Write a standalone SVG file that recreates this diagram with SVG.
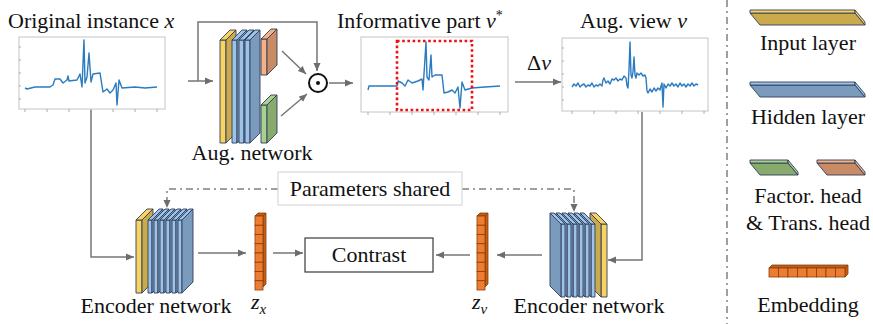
<svg xmlns="http://www.w3.org/2000/svg" xmlns:xlink="http://www.w3.org/1999/xlink" width="873" height="324" viewBox="0 0 873 324">
<style>
text{font-family:"Liberation Serif","Times New Roman","DejaVu Serif",serif;font-size:22px;fill:#111}
.it{font-style:italic}
.conn{fill:none;stroke:#767676;stroke-width:1.5}
.dd{fill:none;stroke:#808080;stroke-width:1.5;stroke-dasharray:7,4,2,4}
.plot{fill:#fff;stroke:#c4c4c4;stroke-width:1}
.tick{stroke:#9a9a9a;stroke-width:0.8}
.sig{fill:none;stroke:#2a7bbf;stroke-width:1.4;stroke-linejoin:round}
.s{stroke:#2f3d5c;stroke-width:0.9;stroke-linejoin:round}
.yf{fill:#f7d462}.ys{fill:#cba94d}
.bf{fill:#9dc3e6}.bs{fill:#7b9bbd}
.of{fill:#f4b183}.os{fill:#c88b63}
.gf{fill:#a9d18e}.gs{fill:#88aa6c}
.ef{fill:#ed7d31;stroke:#8a3c0c;stroke-width:0.8}
.es{fill:#c45e17;stroke:#8a3c0c;stroke-width:0.8}
</style>
<defs>
<marker id="ah" markerUnits="userSpaceOnUse" markerWidth="9" markerHeight="8" refX="8" refY="4" orient="auto">
<path d="M0,0.5 L8,4 L0,7.5 z" fill="#6d6d6d"/>
</marker>
<g id="enc">
<rect class="s yf" x="136" y="220" width="6" height="73"/>
<polygon class="s yf" points="136,220 147,209 153,209 142,220"/>
<polygon class="s ys" points="142,220 153,209 153,282 142,293"/>
<rect class="s bf" x="148" y="220" width="4" height="73"/>
<polygon class="s bf" points="148,220 159,209 163,209 152,220"/>
<polygon class="s bs" points="152,220 163,209 163,282 152,293"/>
<rect class="s bf" x="154" y="220" width="4" height="73"/>
<polygon class="s bf" points="154,220 165,209 169,209 158,220"/>
<polygon class="s bs" points="158,220 169,209 169,282 158,293"/>
<rect class="s bf" x="160" y="220" width="4" height="73"/>
<polygon class="s bf" points="160,220 171,209 175,209 164,220"/>
<polygon class="s bs" points="164,220 175,209 175,282 164,293"/>
<rect class="s bf" x="166" y="220" width="4" height="73"/>
<polygon class="s bf" points="166,220 177,209 181,209 170,220"/>
<polygon class="s bs" points="170,220 181,209 181,282 170,293"/>
<rect class="s bf" x="172" y="220" width="4" height="73"/>
<polygon class="s bf" points="172,220 183,209 187,209 176,220"/>
<polygon class="s bs" points="176,220 187,209 187,282 176,293"/>
<rect class="s bf" x="178" y="220" width="4" height="73"/>
<polygon class="s bf" points="178,220 189,209 193,209 182,220"/>
<polygon class="s bs" points="182,220 193,209 193,282 182,293"/>
</g>
<g id="emb">
<polygon class="es" points="0,3 3,0 11,0 8,3"/>
<polygon class="es" points="8,3 11,0 11,71 8,74"/>
<rect class="ef" x="0" y="3" width="8" height="9.25"/>
<rect class="ef" x="0" y="12.25" width="8" height="9.25"/>
<rect class="ef" x="0" y="21.5" width="8" height="9.25"/>
<rect class="ef" x="0" y="30.75" width="8" height="9.25"/>
<rect class="ef" x="0" y="40" width="8" height="9.25"/>
<rect class="ef" x="0" y="49.25" width="8" height="9.25"/>
<rect class="ef" x="0" y="58.5" width="8" height="9.25"/>
<rect class="ef" x="0" y="67.75" width="8" height="9.25"/>
</g>
</defs>
<rect width="873" height="324" fill="#fff"/>

<g id="connectors">
<path class="conn" d="M188,81 H213" marker-end="url(#ah)"/>
<path class="conn" d="M198,81 V22 H317 V71" marker-end="url(#ah)"/>
<path class="conn" d="M282,51 L306,74" marker-end="url(#ah)"/>
<path class="conn" d="M281,116 L307,94" marker-end="url(#ah)"/>
<path class="conn" d="M329,83 H353" marker-end="url(#ah)"/>
<path class="conn" d="M515,82 H561" marker-end="url(#ah)"/>
<path class="conn" d="M91,110 V257 H134" marker-end="url(#ah)"/>
<path class="conn" d="M642,112 V260 H608" marker-end="url(#ah)"/>
<path class="conn" d="M198,253 H246" marker-end="url(#ah)"/>
<path class="conn" d="M273,253 H303" marker-end="url(#ah)"/>
<path class="conn" d="M470,255 H436" marker-end="url(#ah)"/>
<path class="conn" d="M542,255 H497" marker-end="url(#ah)"/>
<path class="dd" d="M278,189 H167 V208" marker-end="url(#ah)"/>
<path class="dd" d="M462,189 H574 V212" marker-end="url(#ah)"/>
</g>

<path class="dd" d="M727,0 V324" stroke-width="1.2"/>

<g id="original-instance">
<text x="8" y="28">Original instance <tspan class="it">x</tspan></text>
<rect class="plot" x="19" y="37" width="146" height="72"/>
<path class="tick" d="M25,109 v3 M47,109 v3 M69,109 v3 M91,109 v3 M113,109 v3 M135,109 v3 M157,109 v3 M19,47 h2 M19,60 h2 M19,73 h2 M19,86 h2 M19,99 h2"/>
<polyline class="sig" points="25,88 27,89 35,87 50,87 53,85 55,79 60,79 63,83 67,80 68,76 69,81 77,80 80,74 82,87 84,40 85,83 87,77 89,53 91,82 93,74 100,73 103,92 107,89 110,93 113,90 116,83 117,105 119,80 122,88 135,87 145,88 157,87"/>
</g>

<g id="aug-network">
<rect class="s yf" x="220" y="40" width="6" height="103"/>
<polygon class="s yf" points="220,40 230,30 236,30 226,40"/>
<polygon class="s ys" points="226,40 236,30 236,133 226,143"/>
<rect class="s bf" x="232" y="40" width="5" height="103"/>
<polygon class="s bf" points="232,40 242,30 247,30 237,40"/>
<polygon class="s bs" points="237,40 247,30 247,133 237,143"/>
<rect class="s bf" x="239" y="40" width="5" height="103"/>
<polygon class="s bf" points="239,40 249,30 254,30 244,40"/>
<polygon class="s bs" points="244,40 254,30 254,133 244,143"/>
<rect class="s bf" x="245" y="40" width="5" height="103"/>
<polygon class="s bf" points="245,40 255,30 260,30 250,40"/>
<polygon class="s bs" points="250,40 260,30 260,133 250,143"/>
<rect class="s of" x="261" y="39" width="6" height="36"/>
<polygon class="s of" points="261,39 271,29 277,29 267,39"/>
<polygon class="s os" points="267,39 277,29 277,65 267,75"/>
<rect class="s gf" x="261" y="105" width="6" height="38"/>
<polygon class="s gf" points="261,105 271,95 277,95 267,105"/>
<polygon class="s gs" points="267,105 277,95 277,133 267,143"/>
<text x="252" y="160" text-anchor="middle">Aug. network</text>
</g>

<g id="product">
<circle cx="318" cy="83" r="9" fill="#fff" stroke="#111" stroke-width="2"/>
<circle cx="318" cy="83" r="2" fill="#111"/>
</g>

<g id="informative-part">
<text x="337" y="28">Informative part <tspan class="it">v</tspan><tspan dy="-8" font-size="14">*</tspan></text>
<rect class="plot" x="361" y="37" width="147" height="75"/>
<path class="tick" d="M368,112 v3 M390,112 v3 M412,112 v3 M434,112 v3 M456,112 v3 M478,112 v3 M500,112 v3"/>
<polyline class="sig" points="368,90 369,86 380,86 397,86 398,81 402,83 405,86 408,80 412,83 418,81 422,79 423,90 426,42 427,77 429,80 431,55 432,77 435,75 442,75 444,93 448,92 452,90 455,93 458,87 460,108 462,82 465,90 472,88 485,87 500,86"/>
<rect x="397" y="41" width="75" height="69" fill="none" stroke="#ee1111" stroke-width="2.6" stroke-dasharray="2.6,2.6"/>
</g>

<text x="527" y="70">Δ<tspan class="it">v</tspan></text>

<g id="aug-view">
<text x="580" y="28">Aug. view <tspan class="it">v</tspan></text>
<rect class="plot" x="562" y="38" width="146" height="73"/>
<path class="tick" d="M572,111 v3 M594,111 v3 M616,111 v3 M638,111 v3 M660,111 v3 M682,111 v3 M704,111 v3 M562,48 h2 M562,61 h2 M562,74 h2 M562,87 h2 M562,100 h2"/>
<polyline class="sig" points="572,87 574,84 576,86 578,83 580,87 582,85 584,84 586,87 588,85 590,86 592,83 594,87 596,85 598,86 600,84 602,86 603,80 604,78 606,83 608,81 610,84 612,79 614,80 616,78 618,81 620,79 622,80 624,76 626,78 627,86 628,88 629,70 630,42 631,75 632,78 633,72 634,57 635,75 636,78 637,73 639,75 641,73 643,76 645,75 646,78 647,91 648,93 650,89 652,92 654,88 656,91 658,88 660,90 661,86 662,83 663,107 664,84 666,88 668,84 670,86 672,83 674,86 676,84 678,87 680,83 682,86 684,84 686,87 688,84 690,86 692,83 694,86 696,84 698,85"/>
</g>

<g id="params-shared">
<rect x="278" y="172" width="184" height="33" fill="#fff" stroke="#d2d2d2" stroke-width="1"/>
<text x="370" y="196" text-anchor="middle">Parameters shared</text>
</g>

<g id="encoder-left">
<use xlink:href="#enc" href="#enc"/>
<text x="156" y="313" text-anchor="middle">Encoder network</text>
</g>

<g id="encoder-right">
<use xlink:href="#enc" href="#enc" transform="translate(743,4) scale(-1,1)"/>
<text x="589" y="313" text-anchor="middle">Encoder network</text>
</g>

<g id="z-x">
<use xlink:href="#emb" href="#emb" transform="translate(255,213)"/>
<text x="251" y="309" class="it">z<tspan dy="5" font-size="15">x</tspan></text>
</g>

<g id="z-v">
<use xlink:href="#emb" href="#emb" transform="translate(477,213)"/>
<text x="472" y="309" class="it">z<tspan dy="5" font-size="15">v</tspan></text>
</g>

<g id="contrast">
<rect x="305" y="238" width="128" height="34" fill="#fff" stroke="#3a3a3a" stroke-width="1.2"/>
<text x="369" y="262" text-anchor="middle">Contrast</text>
</g>

<g id="legend">
<polygon class="s ys" points="750,13 855,13 865,25 760,25"/>
<rect class="s yf" x="750" y="10" width="105" height="3"/>
<polygon class="s yf" points="855,10 865,22 865,25 855,13"/>
<text x="808" y="50" text-anchor="middle">Input layer</text>

<polygon class="s bs" points="750,85 855,85 865,97 760,97"/>
<rect class="s bf" x="750" y="82" width="105" height="3"/>
<polygon class="s bf" points="855,82 865,94 865,97 855,85"/>
<text x="808" y="124" text-anchor="middle">Hidden layer</text>

<polygon class="s gs" points="750,163 788,163 798,175 760,175"/>
<rect class="s gf" x="750" y="160" width="38" height="3"/>
<polygon class="s gf" points="788,160 798,172 798,175 788,163"/>
<polygon class="s os" points="817,163 855,163 865,175 827,175"/>
<rect class="s of" x="817" y="160" width="38" height="3"/>
<polygon class="s of" points="855,160 865,172 865,175 855,163"/>
<text x="808" y="203" text-anchor="middle">Factor. head</text>
<text x="808" y="230" text-anchor="middle">&amp; Trans. head</text>

<polygon class="es" points="769,268 772,265 848,265 845,268"/>
<polygon class="es" points="845,268 848,265 848,274 845,277"/>
<rect class="ef" x="769" y="268" width="9.5" height="9"/>
<rect class="ef" x="778.5" y="268" width="9.5" height="9"/>
<rect class="ef" x="788" y="268" width="9.5" height="9"/>
<rect class="ef" x="797.5" y="268" width="9.5" height="9"/>
<rect class="ef" x="807" y="268" width="9.5" height="9"/>
<rect class="ef" x="816.5" y="268" width="9.5" height="9"/>
<rect class="ef" x="826" y="268" width="9.5" height="9"/>
<rect class="ef" x="835.5" y="268" width="9.5" height="9"/>
<text x="808" y="312" text-anchor="middle">Embedding</text>
</g>
</svg>
